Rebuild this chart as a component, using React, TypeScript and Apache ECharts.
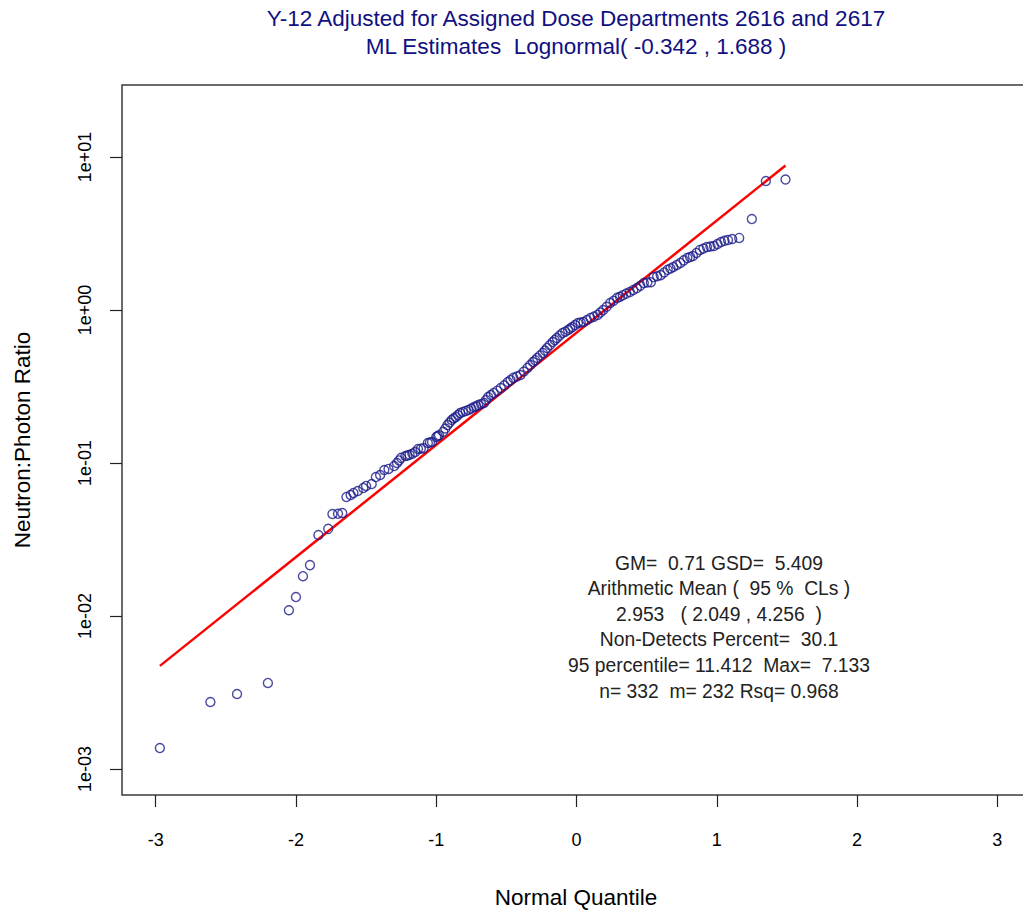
import React, { useEffect, useRef } from "react";
import * as echarts from "echarts";

const titleLines = [
  "Y-12 Adjusted for Assigned Dose Departments 2616 and 2617",
  "ML Estimates  Lognormal( -0.342 , 1.688 )",
];
const xAxisTitle = "Normal Quantile";
const yAxisTitle = "Neutron:Photon Ratio";
const xTickValues = [-3, -2, -1, 0, 1, 2, 3];
const yTickValues = [0.001, 0.01, 0.1, 1, 10];
const yTickLabels = ["1e-03", "1e-02", "1e-01", "1e+00", "1e+01"];
const statsLines = [
  "GM=  0.71 GSD=  5.409",
  "Arithmetic Mean (  95 %  CLs )",
  "2.953   ( 2.049 , 4.256  )",
  "Non-Detects Percent=  30.1",
  "95 percentile= 11.412  Max=  7.133",
  "n= 332  m= 232 Rsq= 0.968",
];

const quantiles = [
  -2.97, -2.61, -2.42, -2.2, -2.05, -2.0, -1.95, -1.9, -1.84, -1.77, -1.74, -1.7, -1.67, -1.64, -1.61, -1.59,
  -1.56, -1.52, -1.5, -1.46, -1.43, -1.4, -1.37, -1.34, -1.3, -1.28, -1.265, -1.25, -1.22, -1.205, -1.19, -1.17,
  -1.15, -1.13, -1.11, -1.09, -1.06, -1.045, -1.03, -1.0, -0.99, -0.98, -0.95, -0.935, -0.92, -0.905, -0.89,
  -0.875, -0.86, -0.845, -0.83, -0.81, -0.79, -0.77, -0.75, -0.73, -0.715, -0.7, -0.68, -0.66, -0.645, -0.63,
  -0.61, -0.59, -0.565, -0.54, -0.515, -0.49, -0.47, -0.45, -0.425, -0.4, -0.375, -0.35, -0.33, -0.31, -0.295,
  -0.28, -0.26, -0.24, -0.225, -0.21, -0.19, -0.17, -0.155, -0.14, -0.12, -0.1, -0.08, -0.06, -0.045, -0.03,
  -0.01, 0.01, 0.03, 0.05, 0.075, 0.1, 0.125, 0.15, 0.17, 0.19, 0.215, 0.24, 0.265, 0.29, 0.31, 0.33, 0.355,
  0.38, 0.405, 0.43, 0.455, 0.48, 0.505, 0.53, 0.55, 0.575, 0.6, 0.625, 0.65, 0.67, 0.69, 0.715, 0.74, 0.765,
  0.79, 0.81, 0.83, 0.855, 0.88, 0.905, 0.93, 0.955, 0.98, 1.005, 1.03, 1.055, 1.08, 1.11, 1.16, 1.25, 1.35, 1.49,
];
const ratios = [
  0.00137, 0.00274, 0.00309, 0.00365, 0.0109, 0.0133, 0.0182, 0.0215, 0.0338, 0.0371, 0.0464, 0.0466, 0.0471,
  0.06, 0.0618, 0.0637, 0.0656, 0.0687, 0.0708, 0.0729, 0.0809, 0.0835, 0.09, 0.0914, 0.0955, 0.1, 0.104, 0.108,
  0.111, 0.112, 0.113, 0.115, 0.118, 0.1235, 0.124, 0.125, 0.135, 0.136, 0.137, 0.148, 0.15, 0.152, 0.16, 0.168,
  0.177, 0.184, 0.191, 0.196, 0.2, 0.206, 0.212, 0.2155, 0.219, 0.222, 0.227, 0.232, 0.235, 0.239, 0.243, 0.247,
  0.258, 0.27, 0.278, 0.287, 0.297, 0.309, 0.322, 0.338, 0.348, 0.36, 0.367, 0.376, 0.396, 0.418, 0.437, 0.457,
  0.47, 0.486, 0.505, 0.524, 0.543, 0.565, 0.59, 0.618, 0.637, 0.656, 0.68, 0.707, 0.722, 0.74, 0.757, 0.774,
  0.797, 0.822, 0.828, 0.835, 0.86, 0.887, 0.905, 0.928, 0.962, 1.0, 1.05, 1.11, 1.15, 1.2, 1.22, 1.25, 1.28,
  1.31, 1.35, 1.39, 1.44, 1.5, 1.51, 1.52, 1.64, 1.66, 1.69, 1.76, 1.83, 1.87, 1.91, 1.97, 2.03, 2.11, 2.19,
  2.22, 2.25, 2.36, 2.47, 2.52, 2.58, 2.6, 2.62, 2.7, 2.78, 2.83, 2.87, 2.91, 2.96, 3.93, 6.97, 7.13,
];
const fitQuantiles = [-2.97, 1.49];
const fitRatios = [0.00472, 8.79];

const FONT = "'Liberation Sans', Arial, Helvetica, sans-serif";

export default function App() {
  const ref = useRef<HTMLDivElement>(null);
  useEffect(() => {
    if (!ref.current) return;
    const chart = echarts.init(ref.current, null, { renderer: "svg" });
    const points = quantiles.map((q, i) => [q, ratios[i]]);
    const fit = fitQuantiles.map((q, i) => [q, fitRatios[i]]);
    chart.setOption({
      animation: false,
      backgroundColor: "#ffffff",
      grid: {
        left: 122,
        top: 85,
        width: 909,
        height: 710,
        show: true,
        borderColor: "#3a3a3a",
        borderWidth: 1.5,
        containLabel: false,
      },
      xAxis: {
        type: "value",
        min: -3.24,
        max: 3.24,
        axisLine: { show: false, onZero: false },
        splitLine: { show: false },
        axisTick: {
          show: true,
          inside: false,
          length: 12,
          customValues: xTickValues,
          lineStyle: { color: "#222", width: 1.2 },
        },
        axisLabel: {
          customValues: xTickValues,
          margin: 36,
          fontSize: 18,
          color: "#000",
          fontFamily: FONT,
          formatter: (v: number) => String(v),
        },
      },
      yAxis: {
        type: "log",
        logBase: 10,
        min: 0.000676,
        max: 29.55,
        position: "left",
        axisLine: { show: false, onZero: false },
        splitLine: { show: false },
        axisTick: {
          show: true,
          length: 12,
          customValues: yTickValues,
          lineStyle: { color: "#222", width: 1.2 },
        },
        axisLabel: {
          customValues: yTickValues,
          rotate: 90,
          margin: 28,
          fontSize: 18,
          color: "#000",
          fontFamily: FONT,
          formatter: (v: number) => {
            const idx = yTickValues.findIndex((t) => Math.abs(Math.log10(t) - Math.log10(v)) < 1e-6);
            return idx >= 0 ? yTickLabels[idx] : "";
          },
        },
      },
      series: [
        {
          type: "line",
          data: fit,
          symbol: "none",
          lineStyle: { color: "#ff0000", width: 2.5 },
          z: 2,
        },
        {
          type: "scatter",
          data: points,
          symbol: "circle",
          symbolSize: 9,
          itemStyle: { color: "rgba(0,0,0,0)", borderColor: "#1a1a8a", borderWidth: 1.4 },
          z: 3,
        },
      ],
      graphic: [
        ...titleLines.map((t, i) => ({
          type: "text",
          x: 576,
          y: 18 + i * 28,
          style: {
            text: t,
            fill: "#10107f",
            font: `22.5px ${FONT}`,
            textAlign: "center",
            textVerticalAlign: "middle",
          },
        })),
        {
          type: "text",
          x: 576,
          y: 897,
          style: {
            text: xAxisTitle,
            fill: "#000",
            font: `22.5px ${FONT}`,
            textAlign: "center",
            textVerticalAlign: "middle",
          },
        },
        {
          type: "text",
          x: 22,
          y: 440,
          rotation: Math.PI / 2,
          style: {
            text: yAxisTitle,
            fill: "#000",
            font: `22.5px ${FONT}`,
            textAlign: "center",
            textVerticalAlign: "middle",
          },
        },
        ...statsLines.map((t, i) => ({
          type: "text",
          x: 719,
          y: 563 + i * 25.6,
          style: {
            text: t,
            fill: "#222",
            font: `19.3px ${FONT}`,
            textAlign: "center",
            textVerticalAlign: "middle",
          },
        })),
      ],
    });
    return () => chart.dispose();
  }, []);
  return (
    <div style={{ position: "fixed", left: 0, top: 0, width: 1023, height: 913, overflow: "hidden", background: "#fff" }}>
      <div ref={ref} style={{ width: 1040, height: 913 }} />
    </div>
  );
}
